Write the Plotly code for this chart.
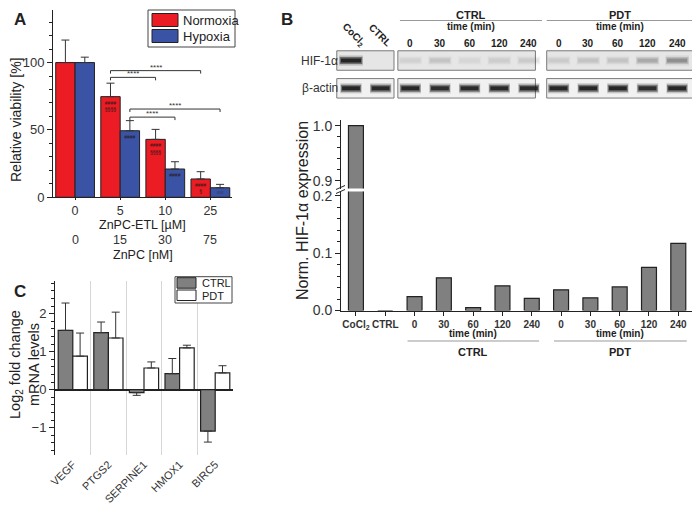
import plotly.graph_objects as go

W, H = 700, 505
OX, OY = 8, 8          # the page body adds an 8px margin around the figure
FONT = "Arial, 'Liberation Sans', sans-serif"
INK = "#222222"
RED = "#ec1c24"
BLUE = "#3a53a4"
GREY = "#808080"


def fx(p):
    # screen pixel -> paper (x)
    return (p - OX) / W


def fy(p):
    # screen pixel (from top) -> paper (y)
    return 1 - (p - OY) / H


# ─────────────────────────────────────────────
# Data
# ─────────────────────────────────────────────

# Panel A: viability
etl_doses = ["0", "5", "10", "25"]
znpc_doses = ["0", "15", "30", "75"]
normoxia = [100, 74.7, 43.0, 13.6]
normoxia_err = [16.7, 10.0, 7.4, 5.4]
hypoxia = [100, 49.4, 21.0, 7.1]
hypoxia_err = [4.0, 7.5, 5.4, 2.5]
normoxia_marks = ["", "####<br>§§§§", "####<br>§§§§", "####<br>§"]
hypoxia_marks = ["", "####", "####", "####"]
sig_series = ["Normoxia", "Normoxia", "Hypoxia", "Hypoxia"]
sig_from = [1, 1, 1, 1]
sig_to = [2, 3, 2, 3]
sig_level = [89, 94, 59.5, 65.5]
sig_label = ["****", "****", "****", "****"]

# Panel B: HIF-1a densitometry + blot
lanes = ["CoCl<sub>2</sub>", "CTRL", "0", "30", "60", "120", "240",
         "0", "30", "60", "120", "240"]
hif_expr = [1.0, 0.0, 0.024, 0.057, 0.005, 0.043, 0.021,
            0.036, 0.022, 0.041, 0.075, 0.117]
blot_hif = [0.95, 0.0, 0.05, 0.10, 0.04, 0.07, 0.08,
            0.08, 0.10, 0.10, 0.20, 0.30]
blot_actin = [0.95, 0.92, 0.95, 0.88, 0.9, 0.92, 0.9,
              0.95, 0.95, 0.95, 0.88, 0.95]
blot_rows = ["HIF-1α", "β-actin"]

# Panel C: mRNA
genes = ["VEGF", "PTGS2", "SERPINE1", "HMOX1", "BIRC5"]
ctrl_fc = [1.56, 1.50, -0.08, 0.42, -1.09]
ctrl_err = [0.72, 0.28, 0.07, 0.40, 0.29]
pdt_fc = [0.88, 1.36, 0.57, 1.10, 0.44]
pdt_err = [0.61, 0.68, 0.16, 0.07, 0.19]

fig = go.Figure()

# ─────────────────────────────────────────────
# Panel A
# ─────────────────────────────────────────────
BW_A = 0.43
for name, vals, errs, marks, col, off in [
    ("Normoxia", normoxia, normoxia_err, normoxia_marks, RED, -BW_A),
    ("Hypoxia", hypoxia, hypoxia_err, hypoxia_marks, BLUE, 0),
]:
    fig.add_trace(go.Bar(
        x=list(range(len(etl_doses))), y=vals, name=name,
        offset=off, width=BW_A,
        marker=dict(color=col, line=dict(color=INK, width=1)),
        error_y=dict(type="data", symmetric=False, array=errs,
                     arrayminus=[0] * len(errs), color="#333", thickness=1, width=4),
        text=marks, textposition="inside", insidetextanchor="end", textangle=0,
        textfont=dict(size=5, color="#2a1a1a", family=FONT),
        xaxis="x", yaxis="y", showlegend=False, hoverinfo="skip",
    ))

for s, a, b, lvl, lab in zip(sig_series, sig_from, sig_to, sig_level, sig_label):
    shift = -BW_A / 2 if s == "Normoxia" else BW_A / 2
    x0, x1 = a + shift, b + shift
    fig.add_trace(go.Scatter(
        x=[x0, x0, x1, x1], y=[lvl - 2.2, lvl, lvl, lvl - 2.2], mode="lines",
        line=dict(color="#333", width=1), xaxis="x", yaxis="y",
        showlegend=False, hoverinfo="skip"))
    fig.add_annotation(x=(x0 + x1) / 2, y=lvl, xref="x", yref="y", text=lab,
                       showarrow=False, xanchor="center", yanchor="bottom",
                       yshift=-3, font=dict(size=8, color="#333", family=FONT))

# ─────────────────────────────────────────────
# Panel B: blot
# ─────────────────────────────────────────────
for r, (row, vals) in enumerate(zip(blot_rows, [blot_hif, blot_actin])):
    for i, v in enumerate(vals):
        if v <= 0:
            continue
        hw = 0.40 if r == 0 else 0.36
        for lw, alpha, trim in [(10, 0.22, 0.0), (7, 0.5, 0.02), (4, 0.9, 0.06)]:
            fig.add_trace(go.Scatter(
                x=[i - hw + trim, i + hw - trim], y=[r, r], mode="lines",
                line=dict(color=f"rgba(25,25,25,{v * alpha:.2f})", width=lw),
                xaxis="x3", yaxis="y3", showlegend=False, hoverinfo="skip"))

# blot frames
for r, fill in [(0, "#e6e6e6"), (1, "#f1f1f1")]:
    for a, b in [(-0.48, 1.45), (1.58, 6.22), (6.6, 11.53)]:
        fig.add_shape(type="rect", xref="x3", yref="y3", x0=a, x1=b,
                      y0=r - 0.35, y1=r + 0.35, layer="below",
                      fillcolor=fill, line=dict(color="#7a7a7a", width=1))

# ─────────────────────────────────────────────
# Panel B: bar chart with broken axis
# ─────────────────────────────────────────────
for xa, ya in [("x4", "y4"), ("x5", "y5")]:
    fig.add_trace(go.Bar(
        x=list(range(len(lanes))), y=hif_expr, offset=-0.255, width=0.51,
        marker=dict(color=GREY, line=dict(color=INK, width=1.2)),
        xaxis=xa, yaxis=ya, showlegend=False, hoverinfo="skip"))

# ─────────────────────────────────────────────
# Panel C
# ─────────────────────────────────────────────
BW_C = 0.41
for name, vals, errs, col, off in [
    ("CTRL", ctrl_fc, ctrl_err, GREY, -BW_C),
    ("PDT", pdt_fc, pdt_err, "white", 0),
]:
    up = [e if v >= 0 else 0 for v, e in zip(vals, errs)]
    dn = [e if v < 0 else 0 for v, e in zip(vals, errs)]
    fig.add_trace(go.Bar(
        x=list(range(len(genes))), y=vals, name=name, offset=off, width=BW_C,
        marker=dict(color=col, line=dict(color=INK, width=1.2)),
        error_y=dict(type="data", symmetric=False, array=up, arrayminus=dn,
                     color="#333", thickness=1, width=4),
        xaxis="x2", yaxis="y2", showlegend=False, hoverinfo="skip"))

# ─────────────────────────────────────────────
# Layout / axes
# ─────────────────────────────────────────────
ax_common = dict(showgrid=False, zeroline=False, linecolor=INK, linewidth=1,
                 tickcolor=INK, automargin=False,
                 tickfont=dict(family=FONT, color="#333"))

fig.update_layout(
    width=W, height=H,
    margin=dict(l=0, r=0, t=0, b=0, pad=0, autoexpand=False),
    paper_bgcolor="white", plot_bgcolor="white", barmode="overlay",
    font=dict(family=FONT, color=INK),
    xaxis=dict(**ax_common, domain=[fx(53), fx(232)], range=[-0.49, 3.48],
               tickvals=list(range(4)), ticktext=etl_doses, showline=True,
               ticks="outside", ticklen=2, anchor="y",
               tickfont_size=12.5),
    yaxis=dict(**ax_common, domain=[fy(197.3), fy(10)], range=[0, 139],
               tickvals=[0, 50, 100], showline=True, ticks="outside", ticklen=5,
               minor=dict(tickmode="linear", tick0=0, dtick=10, ticks="outside",
                          ticklen=3, tickcolor=INK),
               anchor="x", tickfont_size=13),
    xaxis2=dict(**ax_common, domain=[fx(55), fx(233)], range=[-0.5, 4.5],
                tickvals=list(range(5)), ticktext=genes, tickangle=-45,
                showline=False, ticks="", anchor="y2", tickfont_size=11,
                minor=dict(tickmode="array", tickvals=[0.5, 1.5, 2.5, 3.5],
                           showgrid=True, gridcolor="#d6d6d6", gridwidth=1)),
    yaxis2=dict(showgrid=False, linecolor=INK, linewidth=1, tickcolor=INK,
                automargin=False,
                tickfont=dict(family=FONT, color="#333", size=13),
                domain=[fy(455), fy(281)], range=[-1.72, 2.86],
                tickvals=[-1, 0, 1, 2], showline=True, ticks="outside", ticklen=5,
                zeroline=True, zerolinecolor=INK, zerolinewidth=1.5,
                minor=dict(tickmode="linear", tick0=0, dtick=0.2, ticks="outside",
                           ticklen=3, tickcolor=INK),
                anchor="x2"),
    xaxis3=dict(domain=[fx(300), fx(700)], range=[-1.72, 11.77], visible=False,
                anchor="y3"),
    yaxis3=dict(domain=[fy(100), fy(45)], range=[1.42, -0.558], visible=False,
                anchor="x3"),
    xaxis4=dict(**ax_common, domain=[fx(341), fx(695)], range=[-0.51, 11.57],
                tickvals=list(range(len(lanes))),
                ticktext=[f"<b>{t}</b>" for t in lanes], showline=True,
                ticks="outside", ticklen=4, anchor="y4", tickfont_size=10),
    yaxis4=dict(**ax_common, domain=[fy(310.5), fy(191.5)], range=[0, 0.2073],
                tickvals=[0, 0.1, 0.2], tickformat=".1f", showline=True,
                ticks="outside", ticklen=5, anchor="x4", tickfont_size=14,
                minor=dict(tickmode="linear", tick0=0, dtick=0.02, ticks="outside",
                           ticklen=3, tickcolor=INK)),
    xaxis5=dict(domain=[fx(341), fx(695)], range=[-0.51, 11.57], visible=False,
                anchor="y5"),
    yaxis5=dict(**ax_common, domain=[fy(188.5), fy(120)], range=[0.8864, 1.0103],
                tickvals=[0.9, 1.0], tickformat=".1f", showline=True,
                ticks="outside", ticklen=5, anchor="x5", tickfont_size=14,
                minor=dict(tickmode="linear", tick0=0.9, dtick=0.02, ticks="outside",
                           ticklen=3, tickcolor=INK)),
)


def note(x, y, text, size=12, xref="paper", yref="paper", **kw):
    kw.setdefault("xanchor", "center")
    kw.setdefault("yanchor", "middle")
    col = kw.pop("color", INK)
    fig.add_annotation(x=x, y=y, xref=xref, yref=yref, text=text, showarrow=False,
                       font=dict(size=size, family=FONT, color=col), **kw)


# panel letters
note(fx(20), fy(19), "<b>A</b>", size=17)
note(fx(287), fy(19), "<b>B</b>", size=17)
note(fx(20), fy(291), "<b>C</b>", size=17)

# Panel A titles and second dose row
note(fx(16), fy(120), "Relative viability [%]", size=14, textangle=-90)
note(1.5, fy(225.5), "ZnPC-ETL [µM]", size=12.5, xref="x")
for i, d in enumerate(znpc_doses):
    note(i, fy(240.5), d, size=12.5, xref="x", color="#333")
note(1.5, fy(254.5), "ZnPC [nM]", size=12.5, xref="x")

# Panel A legend
fig.add_shape(type="rect", xref="paper", yref="paper", x0=fx(148), x1=fx(235),
              y0=fy(47), y1=fy(10), line=dict(color="#444", width=1),
              fillcolor="white")
for k, (name, col) in enumerate([("Normoxia", RED), ("Hypoxia", BLUE)]):
    top = 13.5 + 16 * k
    fig.add_shape(type="rect", xref="paper", yref="paper", x0=fx(152), x1=fx(178),
                  y0=fy(top + 13), y1=fy(top), fillcolor=col,
                  line=dict(color=INK, width=1))
    note(fx(181), fy(top + 6.8), name, size=13, xanchor="left")

# Panel B blot labels
for r, row in enumerate(blot_rows):
    note(fx(340), r, row, size=12, yref="y3", xanchor="right", color="#333")
note(0.1, fy(35), "<b>CoCl<sub>2</sub></b>", size=10, xref="x3", textangle=45)
note(1.0, fy(35), "<b>CTRL</b>", size=10, xref="x3", textangle=45)
for i in range(2, len(lanes)):
    note(i, fy(43), f"<b>{lanes[i]}</b>", size=10, xref="x3")
for name, a, b in [("CTRL", 1.65, 6.44), ("PDT", 6.6, 11.55)]:
    c = (a + b) / 2
    note(c, fy(15), f"<b>{name}</b>", size=11, xref="x3")
    note(c, fy(26), "<b>time (min)</b>", size=10, xref="x3")
    fig.add_shape(type="line", xref="x3", yref="paper", x0=a, x1=b,
                  y0=fy(20.5), y1=fy(20.5), line=dict(color="#999", width=1))

# Panel B chart labels
note(fx(302), fy(211), "Norm. HIF-1α expression", size=16, textangle=-90)
for name, a, b in [("CTRL", 1.76, 6.25), ("PDT", 6.76, 11.29)]:
    c = (a + b) / 2
    note(c, fy(333), "<b>time (min)</b>", size=10, xref="x4")
    note(c, fy(352), f"<b>{name}</b>", size=11, xref="x4")
    fig.add_shape(type="line", xref="x4", yref="paper", x0=a, x1=b,
                  y0=fy(341), y1=fy(341), line=dict(color="#999", width=1))
# axis break marks
for dy in (0, 4):
    fig.add_shape(type="line", xref="paper", yref="paper",
                  x0=fx(336), x1=fx(345), y0=fy(189.5 + dy), y1=fy(185.5 + dy),
                  line=dict(color=INK, width=1))

# Panel C titles and legend
note(fx(24), fy(365), "Log<sub>2</sub> fold change<br>mRNA levels", size=14.5,
     textangle=-90)
fig.add_shape(type="rect", xref="paper", yref="paper", x0=fx(175), x1=fx(232),
              y0=fy(303), y1=fy(276.7), line=dict(color="#444", width=1),
              fillcolor="white")
for k, (name, col) in enumerate([("CTRL", GREY), ("PDT", "white")]):
    top = 277.7 + 12.3 * k
    fig.add_shape(type="rect", xref="paper", yref="paper", x0=fx(177), x1=fx(196),
                  y0=fy(top + 10.5), y1=fy(top), fillcolor=col,
                  line=dict(color=INK, width=1))
    note(fx(200), fy(top + 5.5), name, size=11, xanchor="left")

fig.write_html("out.html")
